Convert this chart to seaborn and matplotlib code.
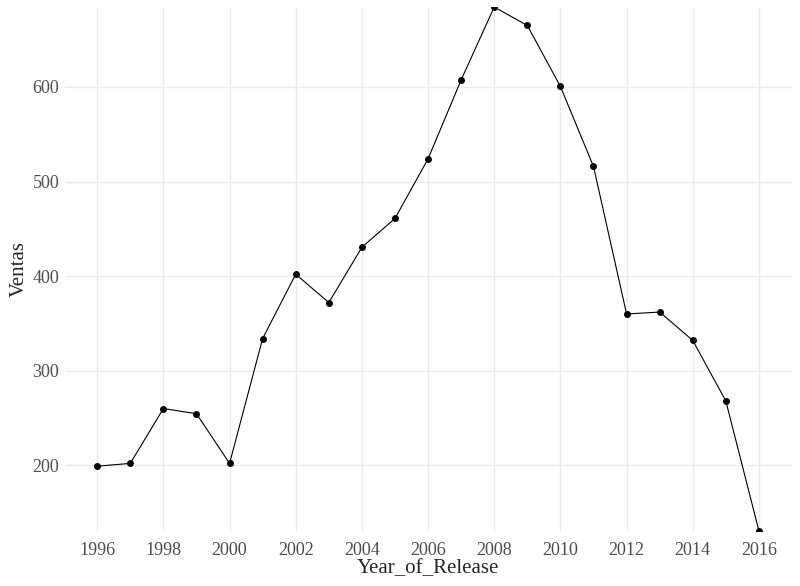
import pandas as pd
import matplotlib
matplotlib.use("Agg")
import matplotlib.pyplot as plt
import seaborn as sns

# Ventas por año de lanzamiento
years = [1996, 1997, 1998, 1999, 2000, 2001, 2002, 2003, 2004, 2005, 2006,
         2007, 2008, 2009, 2010, 2011, 2012, 2013, 2014, 2015, 2016]
ventas = [199, 202, 260, 254.5, 202, 334, 402, 372, 430.5, 461, 524,
          607.5, 684.5, 665, 600.5, 516, 360, 362, 332, 268, 130.6]
x_ticks = list(range(1996, 2017, 2))
y_ticks = [200, 300, 400, 500, 600]

df = pd.DataFrame({"Year_of_Release": years, "Ventas": ventas})

sns.set_theme(style="white")
plt.rcParams["font.family"] = ["Liberation Serif", "DejaVu Serif"]

fig = plt.figure(figsize=(8, 5.86), dpi=100)
ax = fig.add_axes([0.081, 0.094, 0.909, 0.894])

sns.lineplot(data=df, x="Year_of_Release", y="Ventas", ax=ax,
             color="black", linewidth=0.8, marker="o", markersize=5,
             markeredgewidth=0)

ax.set_xlim(1995.02, 2017.0)
ax.set_ylim(min(ventas), max(ventas))
ax.set_xticks(x_ticks)
ax.set_yticks(y_ticks)
ax.grid(True, color="#EBEBEB", linewidth=1.0)
ax.set_axisbelow(True)
for s in ax.spines.values():
    s.set_visible(False)
ax.tick_params(length=0, labelsize=13, labelcolor="#4D4D4D")
ax.tick_params(axis="x", pad=8)
ax.tick_params(axis="y", pad=4)
ax.set_xlabel("Year_of_Release", fontsize=15, labelpad=0)
ax.set_ylabel("Ventas", fontsize=15, labelpad=3)

fig.savefig("out.png", dpi=100)
